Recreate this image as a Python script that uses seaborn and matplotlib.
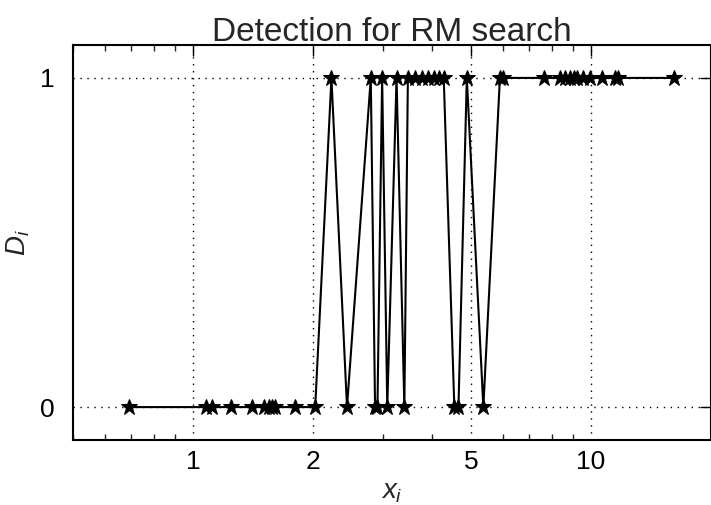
import numpy as np
import pandas as pd
import matplotlib
matplotlib.use("Agg")
import matplotlib.pyplot as plt
import seaborn as sns
from matplotlib.ticker import FixedLocator, FixedFormatter, LogLocator, NullFormatter

# Data
x_vals = [0.69, 1.08, 1.12, 1.25, 1.41, 1.51, 1.55, 1.585, 1.61, 1.81, 2.03,
          2.23, 2.44, 2.80, 2.87, 2.91, 2.99, 3.08, 3.25, 3.40, 3.47, 3.62,
          3.76, 3.90, 4.03, 4.15, 4.27, 4.54, 4.65, 4.88, 5.37, 5.91, 6.03,
          7.62, 8.38, 8.62, 8.87, 9.05, 9.23, 9.55, 9.96, 10.65, 11.5, 11.73, 16.2]
d_vals = [0, 0, 0, 0, 0, 0, 0, 0, 0, 0, 0,
          1, 0, 1, 0, 0, 1, 0, 1, 0, 1, 1,
          1, 1, 1, 1, 1, 0, 0, 1, 0, 1, 1,
          1, 1, 1, 1, 1, 1, 1, 1, 1, 1, 1, 1]
x_ticks = [1, 2, 5, 10]
x_ticklabels = ["1", "2", "5", "10"]
y_ticks = [0, 1]
y_ticklabels = ["0", "1"]

df = pd.DataFrame({"x": x_vals, "D": d_vals})

sns.set_style("white")
plt.rcParams["font.family"] = ["Liberation Sans", "DejaVu Sans"]
plt.rcParams["mathtext.fontset"] = "custom"
plt.rcParams["mathtext.it"] = "Liberation Sans:italic"
plt.rcParams["mathtext.rm"] = "Liberation Sans"

fig = plt.figure(figsize=(7.11, 5.05), dpi=100)
ax = fig.add_axes([73/711, 65/505, (711-73)/711 - 0.0005, (440-45)/505])

sns.lineplot(data=df, x="x", y="D", ax=ax, sort=False, estimator=None,
             color="black", linewidth=1.5, marker="*", markersize=12,
             markeredgecolor="black", markerfacecolor="black", zorder=3)

ax.set_xscale("log")
ax.set_xlim(0.5, 20)
ax.set_ylim(-0.1, 1.1)

ax.xaxis.set_major_locator(FixedLocator(x_ticks))
ax.xaxis.set_major_formatter(FixedFormatter(x_ticklabels))
ax.xaxis.set_minor_locator(LogLocator(base=10, subs=np.arange(2, 10)))
ax.xaxis.set_minor_formatter(NullFormatter())
ax.yaxis.set_major_locator(FixedLocator(y_ticks))
ax.yaxis.set_major_formatter(FixedFormatter(y_ticklabels))

ax.tick_params(axis="both", which="major", direction="in", length=8, width=1,
               top=True, right=True, labelsize=19, colors="black")
ax.tick_params(axis="x", which="major", pad=7)
ax.tick_params(axis="y", which="major", pad=13)
ax.tick_params(axis="x", which="minor", direction="in", length=4, width=1,
               top=True, bottom=True)

ax.grid(True, which="major", linestyle=(0, (1, 4)), color="black", linewidth=1)

for s in ax.spines.values():
    s.set_color("black")
    s.set_linewidth(1.5)

ax.set_title("Detection for RM search", fontsize=24, pad=3)
ax.set_xlabel("$x_i$", fontsize=20, labelpad=4)
ax.set_ylabel("$D_i$", fontsize=20, labelpad=6)

fig.savefig("out.png", dpi=100)
